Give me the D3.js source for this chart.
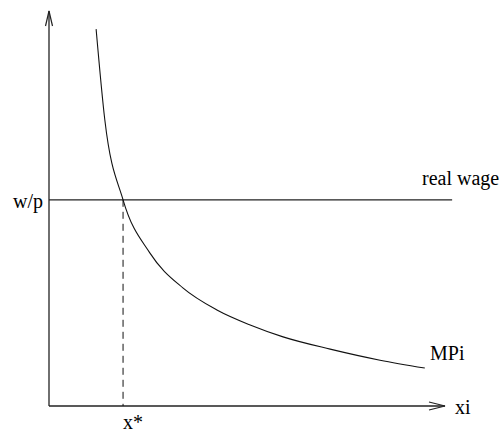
<!DOCTYPE html>
<html><head><meta charset="utf-8">
<script src="https://cdn.jsdelivr.net/npm/d3@7"></script>
<style>body{margin:0;background:#fff}svg{display:block}svg text{font-family:"Times New Roman","Liberation Serif",Times,serif}</style>
</head><body><svg id="c" width="504" height="435"></svg>
<script>
// MPi curve points (x in 0..100, y in 0..100)
const mpX = [11.9, 14.1, 18.7, 25.5, 33.8, 42.4, 50.8, 59.1, 71.0, 83.6, 94.9];
const mpY = [95.4, 72.4, 52.2, 38.7, 29.9, 24.3, 20.5, 17.5, 14.4, 11.6, 9.6];
const realWage = 52.2;
const xStar = 18.7;
const wageEnd = 101.8;
const labels = {w: "w/p", rw: "real wage", mp: "MPi", xi: "xi", xs: "x*"};

const svg = d3.select("#c");
const x = d3.scaleLinear().domain([0, 100]).range([49, 445]);
const y = d3.scaleLinear().domain([0, 100]).range([406, 11]);

// axes
svg.append("line").attr("x1", x(0)).attr("y1", y(0)).attr("x2", x(0)).attr("y2", y(100))
  .attr("stroke", "#222").attr("stroke-width", 1.3);
svg.append("line").attr("x1", x(0)).attr("y1", y(0)).attr("x2", x(100)).attr("y2", y(0))
  .attr("stroke", "#222").attr("stroke-width", 1.3);
// arrowheads
svg.append("path").attr("d", `M${x(0)-3.5},${y(100)+15} L${x(0)},${y(100)} L${x(0)+3.5},${y(100)+15}`)
  .attr("fill", "none").attr("stroke", "#222").attr("stroke-width", 1.2);
svg.append("path").attr("d", `M${x(100)-16},${y(0)-4} L${x(100)},${y(0)} L${x(100)-16},${y(0)+4}`)
  .attr("fill", "none").attr("stroke", "#222").attr("stroke-width", 1.2);

// real wage line
svg.append("line").attr("x1", x(0)).attr("x2", x(wageEnd)).attr("y1", y(realWage)).attr("y2", y(realWage))
  .attr("stroke", "#222").attr("stroke-width", 1.2);

// dashed x*
svg.append("line").attr("x1", x(xStar)).attr("x2", x(xStar)).attr("y1", y(realWage)).attr("y2", y(0))
  .attr("stroke", "#111").attr("stroke-width", 1).attr("stroke-dasharray", "7,5");

// MPi curve
const pts = mpX.map((v, i) => [v, mpY[i]]);
svg.append("path").datum(pts)
  .attr("d", d3.line().x(d => x(d[0])).y(d => y(d[1])).curve(d3.curveMonotoneX))
  .attr("fill", "none").attr("stroke", "#111").attr("stroke-width", 1.1);

// labels
function label(tx, ty, s, anchor) {
  svg.append("text").attr("x", tx).attr("y", ty).attr("text-anchor", anchor || "start")
    .style("font-size", "20px").attr("fill", "#000").text(s);
}
label(43, 208, labels.w, "end");
label(422, 185, labels.rw);
label(430, 360, labels.mp);
label(455, 414, labels.xi);
label(123, 429, labels.xs);
</script></body></html>
